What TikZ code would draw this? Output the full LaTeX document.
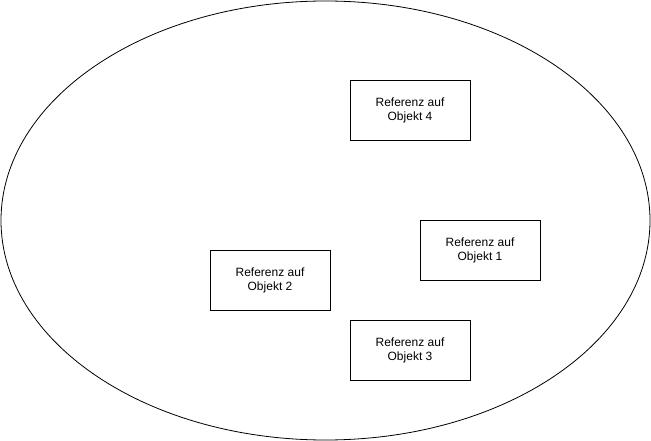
\documentclass[tikz,border=0pt]{standalone}
\usepackage{fontspec}
\setmainfont{Liberation Sans}
\usetikzlibrary{shapes.geometric}
\begin{document}
\begin{tikzpicture}[x=1pt,y=-1pt,
  refbox/.style={draw=black,line width=0.8pt,minimum width=120pt,minimum height=60pt,align=center,font=\fontsize{12}{14}\selectfont,inner sep=0pt}]
\useasboundingbox (0,0) rectangle (651,441);
\node[draw=black,line width=0.8pt,ellipse,minimum width=649pt,minimum height=439pt,inner sep=0pt] (ell) at (325.5,220.5) {};
\node[refbox] (o4) at (410,110) {Referenz auf\\Objekt 4};
\node[refbox] (o1) at (480,250) {Referenz auf\\Objekt 1};
\node[refbox] (o2) at (270,280) {Referenz auf\\Objekt 2};
\node[refbox] (o3) at (410,350) {Referenz auf\\Objekt 3};
\end{tikzpicture}
\end{document}
